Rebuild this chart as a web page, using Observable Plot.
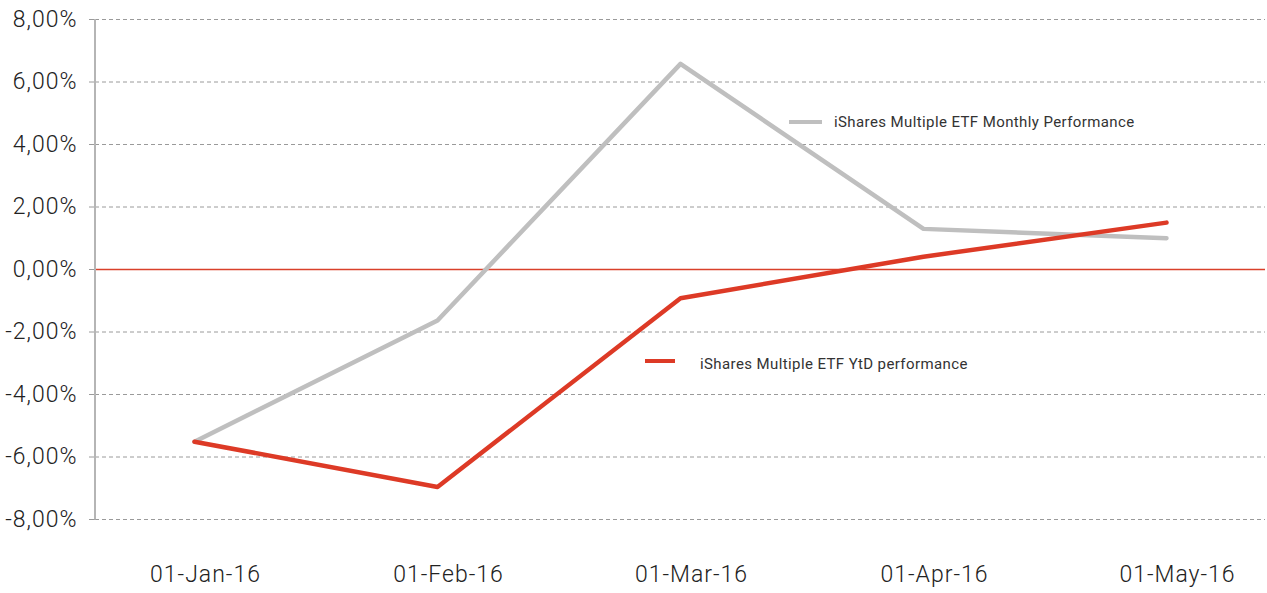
<!DOCTYPE html>
<html>
<head>
<meta charset="utf-8">
<script src="https://cdn.jsdelivr.net/npm/d3@7"></script>
<script src="https://cdn.jsdelivr.net/npm/@observablehq/plot@0.6"></script>
<style>
  html, body { margin: 0; padding: 0; background: #fff; }
  #wrap { position: relative; width: 1267px; height: 593px; font-family: Roboto, "DejaVu Sans", sans-serif; }
  .leg { position: absolute; font-size: 15px; letter-spacing: 0.4px; color: #333; white-space: nowrap; }
  .leg .sw { position: absolute; height: 4px; }
  .leg .tx { position: absolute; line-height: 20px; }
  svg text { letter-spacing: 1px; }
</style>
</head>
<body>
<div id="wrap"></div>
<script>
const dates = ["01-Jan-16", "01-Feb-16", "01-Mar-16", "01-Apr-16", "01-May-16"];
const monthly = [-5.51, -1.63, 6.58, 1.30, 1.00];
const ytd = [-5.51, -6.96, -0.92, 0.41, 1.50];
const yTicks = [-8, -6, -4, -2, 0, 2, 4, 6, 8];
const seriesNames = ["iShares Multiple ETF Monthly Performance", "iShares Multiple ETF YtD performance"];
const seriesColors = ["#bfbfbf", "#dd3a26"];

const rows = [];
dates.forEach((d, i) => {
  rows.push({date: d, value: monthly[i], series: seriesNames[0]});
  rows.push({date: d, value: ytd[i], series: seriesNames[1]});
});

const fmt = d => d.toFixed(2).replace(".", ",") + "%";

const chart = Plot.plot({
  width: 1267,
  height: 593,
  marginLeft: 95,
  marginRight: 2,
  marginTop: 19,
  marginBottom: 74,
  style: {fontFamily: "Roboto, 'DejaVu Sans', sans-serif", background: "#fff", overflow: "visible"},
  x: {type: "point", domain: dates, padding: 0.4, label: null},
  y: {domain: [-8, 8], label: null},
  marks: [
    Plot.gridY(yTicks.filter(t => t !== 0), {stroke: "#9a9a9a", strokeOpacity: 1, strokeDasharray: "4,3", strokeWidth: 1}),
    Plot.axisY({ticks: yTicks, tickFormat: fmt, tickSize: 6, tickPadding: 12, fontSize: 23, fontWeight: 300, stroke: "#9a9a9a", color: "#222", label: null}),
    Plot.axisX({tickSize: 0, tickPadding: 46, dx: 11, fontSize: 23, fontWeight: 300, color: "#222", label: null}),
    Plot.ruleY([0], {stroke: "#d9402b", strokeWidth: 1.3}),
    Plot.line(rows.filter(r => r.series === seriesNames[0]), {x: "date", y: "value", stroke: seriesColors[0], strokeWidth: 4.5}),
    Plot.line(rows.filter(r => r.series === seriesNames[1]), {x: "date", y: "value", stroke: seriesColors[1], strokeWidth: 4.5})
  ]
});

// vertical axis line at the left edge of the frame
const svg = d3.select(chart);
svg.append("line")
  .attr("x1", 95).attr("x2", 95).attr("y1", 19).attr("y2", 519.5)
  .attr("stroke", "#b5b5b5").attr("stroke-width", 2);

document.getElementById("wrap").appendChild(chart);

// legends placed inside the plot area
const wrap = document.getElementById("wrap");
const legPos = [
  {left: 789, swW: 33, swY: 122, txX: 834, txY: 122},
  {left: 645, swW: 30, swY: 361, txX: 700, txY: 364}
];
seriesNames.forEach((name, i) => {
  const p = legPos[i];
  const el = document.createElement("div");
  el.className = "leg";
  el.style.left = "0px";
  el.style.top = "0px";
  el.innerHTML = `<span class="sw" style="left:${p.left}px;top:${p.swY - 2}px;width:${p.swW}px;background:${seriesColors[i]}"></span>` +
                 `<span class="tx" style="left:${p.txX}px;top:${p.txY - 10}px">${name}</span>`;
  wrap.appendChild(el);
});
</script>
</body>
</html>
